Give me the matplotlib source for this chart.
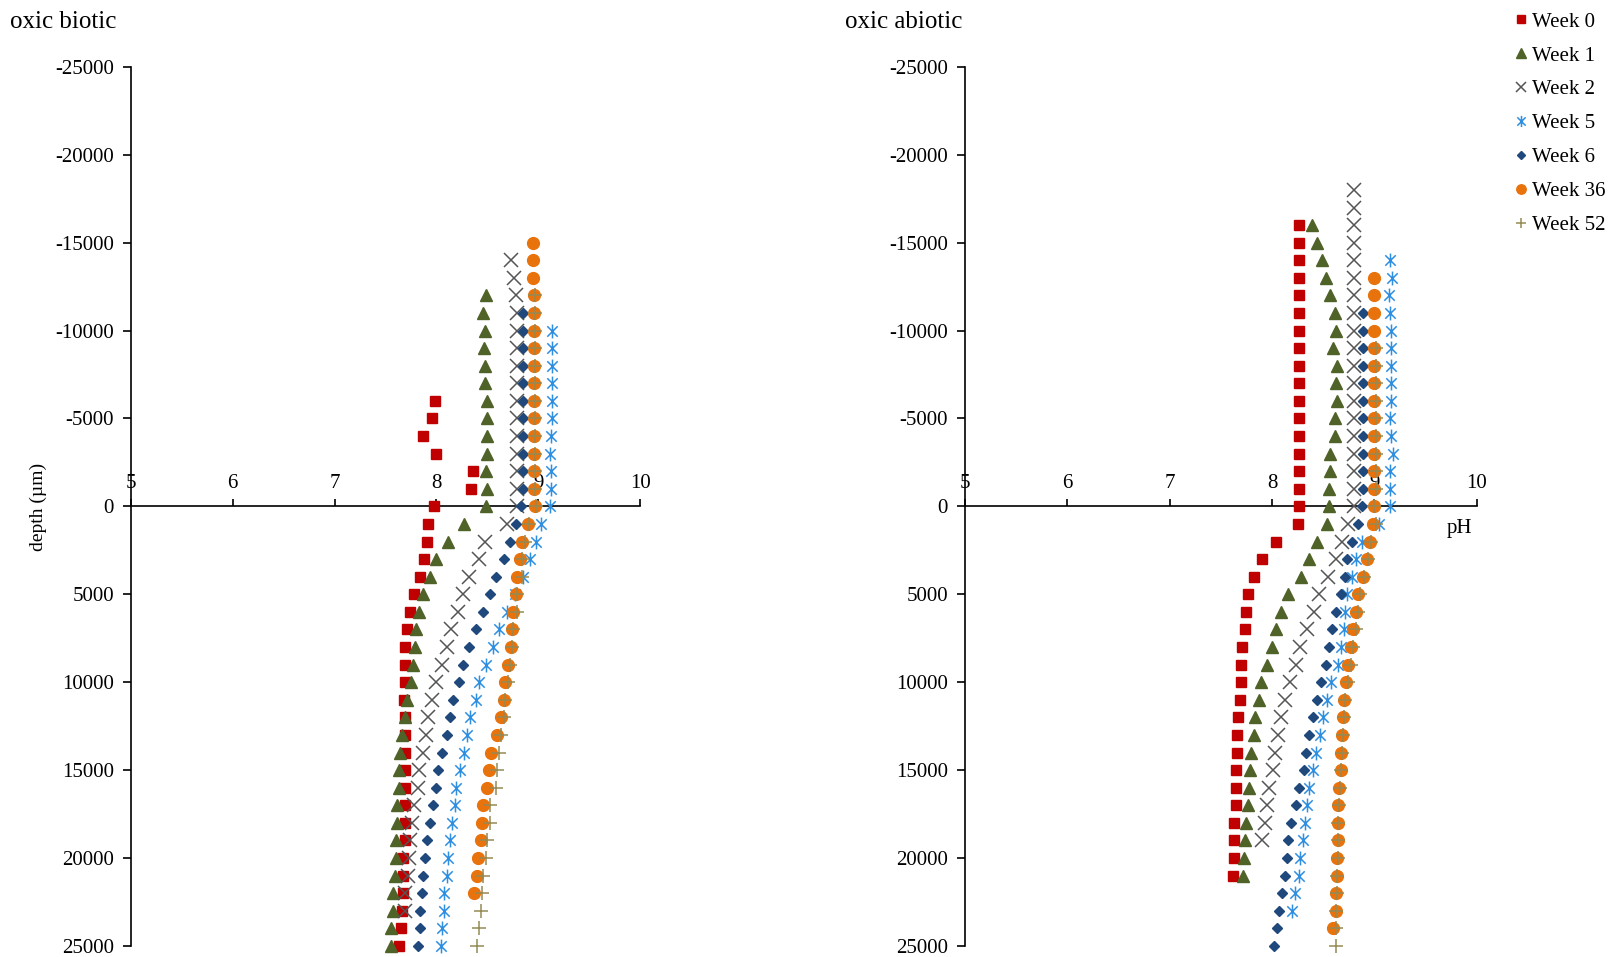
import numpy as np
import matplotlib
matplotlib.use("Agg")
import matplotlib.pyplot as plt
from matplotlib.path import Path
from matplotlib.lines import Line2D

plt.rcParams['font.family'] = ['Liberation Serif', 'DejaVu Serif']
plt.rcParams['axes.unicode_minus'] = False

weeks = ["Week 0", "Week 1", "Week 2", "Week 5", "Week 6", "Week 36", "Week 52"]

# pH profiles, one value per 1000 um step starting at the given top depth
biotic_top = [-6000, -12000, -14000, -10000, -11000, -15000, -12000]
biotic_ph = [
    [7.99, 7.96, 7.87, 8.00, 8.36, 8.34, 7.98, 7.92, 7.91, 7.88, 7.84, 7.78, 7.74, 7.71, 7.69, 7.69,
     7.69, 7.68, 7.69, 7.69, 7.69, 7.69, 7.69, 7.69, 7.69, 7.69, 7.67, 7.67, 7.67, 7.66, 7.65, 7.63],
    [8.49, 8.46, 8.48, 8.47, 8.48, 8.48, 8.50, 8.50, 8.50, 8.50, 8.49, 8.50, 8.49, 8.27, 8.11, 8.00,
     7.94, 7.87, 7.83, 7.80, 7.79, 7.77, 7.75, 7.71, 7.69, 7.66, 7.64, 7.63, 7.63, 7.61, 7.61, 7.60,
     7.60, 7.59, 7.57, 7.57, 7.55, 7.55],
    [8.73, 8.76, 8.78, 8.79, 8.79, 8.79, 8.79, 8.79, 8.79, 8.79, 8.79, 8.79, 8.79, 8.79, 8.79, 8.69,
     8.48, 8.42, 8.32, 8.26, 8.21, 8.14, 8.10, 8.05, 8.00, 7.96, 7.92, 7.90, 7.87, 7.83, 7.82, 7.78,
     7.76, 7.74, 7.73, 7.72, 7.69, 7.69],
    [9.13, 9.13, 9.13, 9.13, 9.13, 9.13, 9.12, 9.11, 9.12, 9.12, 9.11, 9.03, 8.98, 8.92, 8.85, 8.77,
     8.69, 8.61, 8.55, 8.49, 8.42, 8.39, 8.33, 8.30, 8.27, 8.23, 8.19, 8.18, 8.15, 8.13, 8.11, 8.10,
     8.07, 8.07, 8.05, 8.04],
    [8.85, 8.85, 8.85, 8.85, 8.85, 8.85, 8.85, 8.85, 8.85, 8.85, 8.85, 8.83, 8.78, 8.72, 8.66, 8.58,
     8.53, 8.46, 8.39, 8.32, 8.26, 8.22, 8.16, 8.13, 8.10, 8.05, 8.02, 8.00, 7.97, 7.94, 7.91, 7.89,
     7.87, 7.86, 7.84, 7.84, 7.82],
    [8.95, 8.95, 8.95, 8.96, 8.96, 8.96, 8.96, 8.96, 8.96, 8.96, 8.96, 8.96, 8.96, 8.96, 8.96, 8.97,
     8.90, 8.84, 8.82, 8.79, 8.78, 8.75, 8.74, 8.73, 8.70, 8.67, 8.66, 8.63, 8.59, 8.54, 8.52, 8.50,
     8.46, 8.45, 8.44, 8.41, 8.40, 8.37],
    [8.97, 8.97, 8.97, 8.97, 8.97, 8.97, 8.97, 8.97, 8.97, 8.97, 8.97, 8.97, 8.98, 8.91, 8.87, 8.84,
     8.84, 8.79, 8.79, 8.75, 8.74, 8.72, 8.70, 8.67, 8.66, 8.63, 8.61, 8.59, 8.58, 8.53, 8.53, 8.50,
     8.49, 8.46, 8.45, 8.44, 8.42, 8.40],
]

abiotic_top = [-16000, -16000, -18000, -14000, -11000, -13000, -9000]
abiotic_ph = [
    [8.26, 8.26, 8.26, 8.26, 8.26, 8.26, 8.26, 8.26, 8.26, 8.26, 8.26, 8.26, 8.26, 8.26, 8.26, 8.26,
     8.26, 8.25, 8.04, 7.90, 7.82, 7.77, 7.75, 7.74, 7.71, 7.70, 7.70, 7.69, 7.67, 7.66, 7.66, 7.65,
     7.65, 7.65, 7.63, 7.63, 7.63, 7.62],
    [8.39, 8.44, 8.49, 8.53, 8.57, 8.61, 8.62, 8.60, 8.63, 8.62, 8.63, 8.61, 8.61, 8.57, 8.57, 8.56,
     8.56, 8.54, 8.44, 8.36, 8.28, 8.16, 8.09, 8.04, 8.00, 7.95, 7.89, 7.87, 7.83, 7.82, 7.80, 7.79,
     7.78, 7.77, 7.75, 7.74, 7.73, 7.72],
    [8.80, 8.80, 8.80, 8.80, 8.80, 8.80, 8.80, 8.80, 8.80, 8.80, 8.80, 8.80, 8.80, 8.80, 8.80, 8.80,
     8.80, 8.80, 8.80, 8.74, 8.68, 8.62, 8.55, 8.46, 8.41, 8.34, 8.27, 8.23, 8.18, 8.13, 8.09, 8.06,
     8.03, 8.01, 7.97, 7.95, 7.93, 7.90],
    [9.15, 9.17, 9.14, 9.15, 9.16, 9.16, 9.16, 9.16, 9.16, 9.15, 9.16, 9.18, 9.15, 9.15, 9.15, 9.04,
     8.88, 8.82, 8.78, 8.73, 8.71, 8.70, 8.67, 8.64, 8.58, 8.54, 8.50, 8.47, 8.43, 8.40, 8.36, 8.34,
     8.32, 8.30, 8.27, 8.26, 8.22, 8.20],
    [8.89, 8.89, 8.89, 8.89, 8.89, 8.89, 8.89, 8.89, 8.89, 8.89, 8.89, 8.88, 8.84, 8.78, 8.73, 8.71,
     8.67, 8.62, 8.59, 8.56, 8.53, 8.48, 8.44, 8.40, 8.36, 8.33, 8.31, 8.26, 8.23, 8.19, 8.16, 8.15,
     8.13, 8.10, 8.07, 8.05, 8.02],
    [9.00, 9.00, 9.00, 9.00, 9.00, 9.00, 9.00, 9.00, 9.00, 9.00, 9.00, 9.00, 9.00, 9.00, 8.99, 8.96,
     8.93, 8.89, 8.84, 8.82, 8.79, 8.77, 8.74, 8.72, 8.70, 8.69, 8.68, 8.67, 8.67, 8.65, 8.64, 8.64,
     8.64, 8.63, 8.63, 8.62, 8.62, 8.60],
    [9.01, 9.01, 9.01, 9.01, 9.01, 9.01, 9.01, 9.01, 9.01, 9.00, 9.01, 8.97, 8.94, 8.90, 8.86, 8.84,
     8.82, 8.79, 8.77, 8.74, 8.71, 8.70, 8.69, 8.68, 8.67, 8.66, 8.65, 8.64, 8.64, 8.64, 8.63, 8.63,
     8.62, 8.62, 8.62],
]

# Excel-style asterisk: vertical bar plus an X
star = Path([(0, -1), (0, 1), (-0.75, -0.75), (0.75, 0.75), (-0.75, 0.75), (0.75, -0.75)],
            [Path.MOVETO, Path.LINETO, Path.MOVETO, Path.LINETO, Path.MOVETO, Path.LINETO])

styles = [
    dict(marker='s', ms=7.5, color='#C00000', mec='#C00000'),
    dict(marker='^', ms=8.5, color='#4F6228', mec='#4F6228'),
    dict(marker='x', ms=9.5, color='#555555', mew=1.1),
    dict(marker=star, ms=10, color='#2E8FE0', mew=1.1),
    dict(marker='D', ms=5, color='#1F497D', mec='#1F497D'),
    dict(marker='o', ms=8.5, color='#E8720C', mec='#E8720C'),
    dict(marker='+', ms=9.5, color='#948A54', mew=1.1),
]

fig = plt.figure(figsize=(16.14, 9.57), dpi=100)
ax1 = fig.add_axes([0.081, 0.0116, 0.3157, 0.9185])
ax2 = fig.add_axes([0.5976, 0.0116, 0.3175, 0.9185])


def draw_panel(ax, tops, phs):
    for top, ph, st in zip(tops, phs, styles):
        depth = np.arange(len(ph)) * 1000 + top
        ax.plot(ph, depth, linestyle='none', clip_on=False, zorder=3, **st)
    ax.set_xlim(5, 10)
    ax.set_ylim(25000, -25000)
    ax.set_yticks(np.arange(-25000, 25001, 5000))
    ax.set_xticks([5, 6, 7, 8, 9, 10])
    ax.spines['right'].set_visible(False)
    ax.spines['bottom'].set_visible(False)
    ax.spines['top'].set_position(('data', 0))
    ax.spines['left'].set_linewidth(1.2)
    ax.spines['top'].set_linewidth(1.2)
    ax.xaxis.tick_top()
    ax.tick_params(axis='x', direction='out', length=5, width=1.2, pad=5, labelsize=15)
    ax.tick_params(axis='y', direction='out', length=6, width=1.2, pad=6, labelsize=15)
    ax.patch.set_visible(False)


draw_panel(ax1, biotic_top, biotic_ph)
draw_panel(ax2, abiotic_top, abiotic_ph)

fig.text(10 / 1614, 1 - 22 / 957, "oxic biotic", fontsize=18, va='center', ha='left')
fig.text(845 / 1614, 1 - 22 / 957, "oxic abiotic", fontsize=18, va='center', ha='left')
fig.text(38 / 1614, 1 - 507 / 957, "depth (\u00b5m)", fontsize=14, rotation=90, va='center', ha='center')
fig.text(1459 / 1614, 1 - 528 / 957, "pH", fontsize=15, va='center', ha='center')

handles = [Line2D([], [], linestyle='none', **st) for st in styles]
fig.legend(handles, weeks, loc='upper left', bbox_to_anchor=(1514 / 1614, 1 - 12 / 957),
           frameon=False, fontsize=15, handlelength=0.7, handletextpad=0.15,
           labelspacing=0.69, borderaxespad=0, borderpad=0, markerscale=0.8)

fig.savefig("out.png", dpi=100)
